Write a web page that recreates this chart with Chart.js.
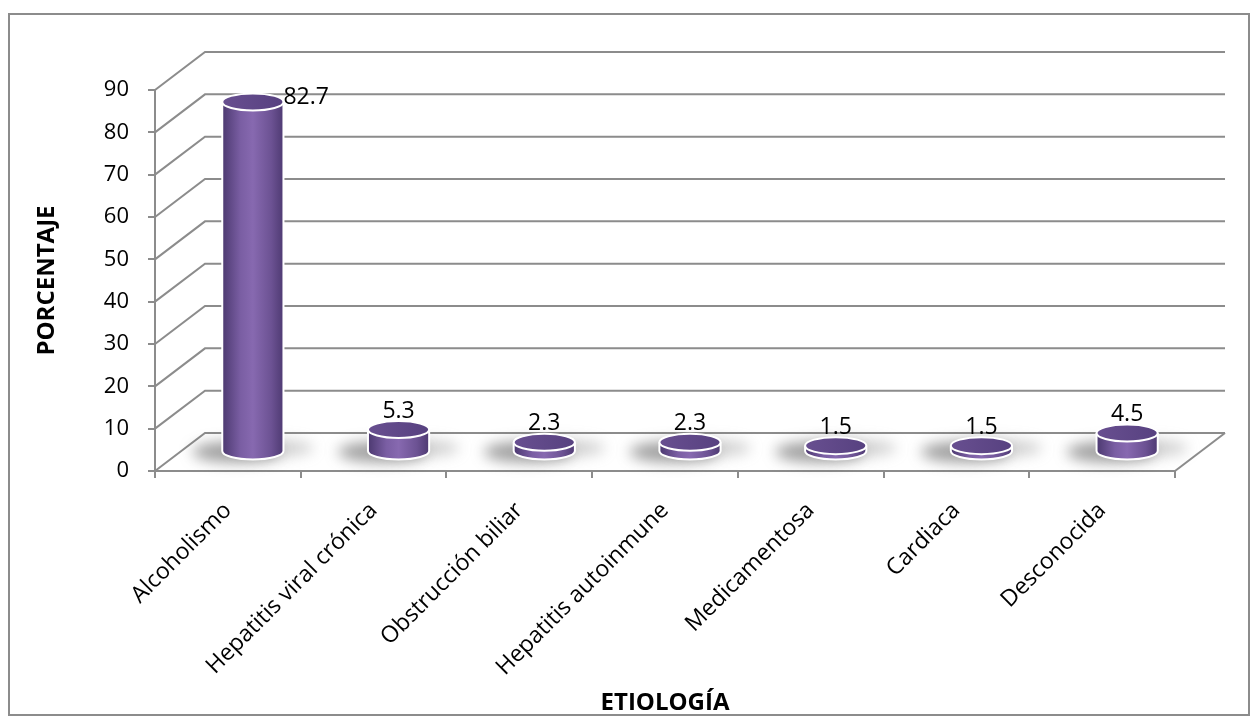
<!DOCTYPE html>
<html>
<head>
<meta charset="utf-8">
<script src="https://cdn.jsdelivr.net/npm/chart.js@4"></script>
<style>
  html, body { margin: 0; padding: 0; background: #fff; }
  #wrap { width: 1258px; height: 723px; }
</style>
</head>
<body>
<div id="wrap"><canvas id="chart" width="1258" height="723"></canvas></div>
<script>
// data
const categories = ["Alcoholismo", "Hepatitis viral crónica", "Obstrucción biliar", "Hepatitis autoinmune", "Medicamentosa", "Cardiaca", "Desconocida"];
const percentages = [82.7, 5.3, 2.3, 2.3, 1.5, 1.5, 4.5];
const yTicks = [0, 10, 20, 30, 40, 50, 60, 70, 80, 90];

const GRID = "#8c8c8c";
const DEPTH_X = 50;   // back wall offset
const DEPTH_Y = -38;
const FONT = "'Open Sans', sans-serif";

// 3d look: back wall, floor, cylinders, labels
const cylinderPlugin = {
    id: "cylinders",
    beforeDraw(chart) {
        const ctx = chart.ctx;
        ctx.save();
        ctx.fillStyle = "#fff";
        ctx.fillRect(0, 0, chart.width, chart.height);
        ctx.strokeStyle = GRID;
        ctx.lineWidth = 2;
        ctx.strokeRect(9, 14, 1240, 701);
        ctx.restore();
    },
    beforeDatasetsDraw(chart) {
        const { ctx, chartArea, scales } = chart;
        const y = scales.y;
        ctx.save();
        ctx.strokeStyle = GRID;
        ctx.lineWidth = 2;
        yTicks.forEach((v) => {
            const py = y.getPixelForValue(v);
            ctx.beginPath();
            ctx.moveTo(chartArea.left, py);
            ctx.lineTo(chartArea.left + DEPTH_X, py + DEPTH_Y);
            ctx.lineTo(chartArea.right + DEPTH_X, py + DEPTH_Y);
            ctx.stroke();
        });
        // right edge of the floor
        const p0 = y.getPixelForValue(0);
        ctx.beginPath();
        ctx.moveTo(chartArea.right, p0);
        ctx.lineTo(chartArea.right + DEPTH_X, p0 + DEPTH_Y);
        ctx.stroke();
        ctx.restore();
    },
    afterDatasetsDraw(chart) {
        const ctx = chart.ctx;
        const meta = chart.getDatasetMeta(0);
        const ry = 8.5;
        meta.data.forEach((bar, i) => {
            const cx = bar.x + DEPTH_X / 2;
            const top = bar.y + DEPTH_Y / 2;
            const base = bar.base + DEPTH_Y / 2;
            const rx = bar.width / 2;

            // soft shadow on the floor
            ctx.save();
            ctx.filter = "blur(7px)";
            ctx.fillStyle = "rgba(80,80,80,0.55)";
            ctx.beginPath();
            ctx.ellipse(cx - 16, base + 1, rx + 14, ry + 2, 0, 0, Math.PI * 2);
            ctx.fill();
            ctx.fillStyle = "rgba(120,120,120,0.35)";
            ctx.beginPath();
            ctx.ellipse(cx + 20, base - 3, rx + 10, ry, 0, 0, Math.PI * 2);
            ctx.fill();
            ctx.restore();

            // body
            ctx.save();
            const g = ctx.createLinearGradient(cx - rx, 0, cx + rx, 0);
            g.addColorStop(0, "#4c3970");
            g.addColorStop(0.3, "#7a5ea3");
            g.addColorStop(0.5, "#8769b0");
            g.addColorStop(0.8, "#6c5293");
            g.addColorStop(1, "#4e3a72");
            ctx.fillStyle = g;
            ctx.beginPath();
            ctx.moveTo(cx - rx, top);
            ctx.lineTo(cx - rx, base);
            ctx.ellipse(cx, base, rx, ry, 0, Math.PI, 0, true);
            ctx.lineTo(cx + rx, top);
            ctx.closePath();
            ctx.fill();
            ctx.strokeStyle = "#ffffff";
            ctx.lineWidth = 2;
            ctx.beginPath();
            ctx.moveTo(cx - rx, top);
            ctx.lineTo(cx - rx, base);
            ctx.ellipse(cx, base, rx, ry, 0, Math.PI, 0, true);
            ctx.lineTo(cx + rx, top);
            ctx.stroke();

            // top face
            const tg = ctx.createLinearGradient(cx - rx, top, cx + rx, top);
            tg.addColorStop(0, "#684f90");
            tg.addColorStop(1, "#574180");
            ctx.fillStyle = tg;
            ctx.beginPath();
            ctx.ellipse(cx, top, rx, ry, 0, 0, Math.PI * 2);
            ctx.fill();
            ctx.stroke();
            ctx.restore();

            // value label
            const v = percentages[i];
            ctx.save();
            ctx.fillStyle = "#000";
            ctx.font = "23px " + FONT;
            ctx.textBaseline = "middle";
            if (v > 70) {
                ctx.textAlign = "left";
                ctx.fillText(v.toFixed(1), cx + rx, top - 4);
            } else {
                ctx.textAlign = "center";
                ctx.fillText(v.toFixed(1), cx, top - ry - 10);
            }
            ctx.restore();
        });
    }
};

new Chart(document.getElementById("chart").getContext("2d"), {
    type: "bar",
    data: {
        labels: categories,
        datasets: [{
            label: "Porcentaje",
            data: percentages,
            backgroundColor: "rgba(0,0,0,0)",
            borderWidth: 0,
            categoryPercentage: 1.0,
            barPercentage: 0.42,
        }],
    },
    options: {
        responsive: false,
        animation: false,
        layout: { padding: { left: 18, top: 90, right: 83, bottom: 0 } },
        plugins: {
            legend: { display: false },
            tooltip: { enabled: false },
        },
        scales: {
            x: {
                grid: { drawOnChartArea: false, drawTicks: true, tickLength: 7, color: GRID, lineWidth: 2, offset: true },
                border: { display: true, color: GRID, width: 2 },
                ticks: { color: "#000", font: { family: FONT, size: 23 }, minRotation: 45, maxRotation: 45, padding: 19, autoSkip: false },
                title: { display: true, text: "ETIOLOGÍA", color: "#000", font: { family: FONT, size: 24, weight: "bold" }, padding: { top: 0, bottom: 5 } },
                afterFit(scale) { scale.height = 252; },
            },
            y: {
                min: 0,
                max: 90,
                afterBuildTicks(scale) { scale.ticks = yTicks.map((v) => ({ value: v })); },
                grid: { drawOnChartArea: false, drawTicks: true, tickLength: 7, color: GRID, lineWidth: 2 },
                border: { display: true, color: GRID, width: 2 },
                ticks: { color: "#000", font: { family: FONT, size: 22 }, padding: 19 },
                title: { display: true, text: "PORCENTAJE", color: "#000", font: { family: FONT, size: 24, weight: "bold" }, padding: { top: 15, bottom: 0 } },
                afterFit(scale) { scale.width = 137; },
            },
        },
    },
    plugins: [cylinderPlugin],
});
</script>
</body>
</html>
